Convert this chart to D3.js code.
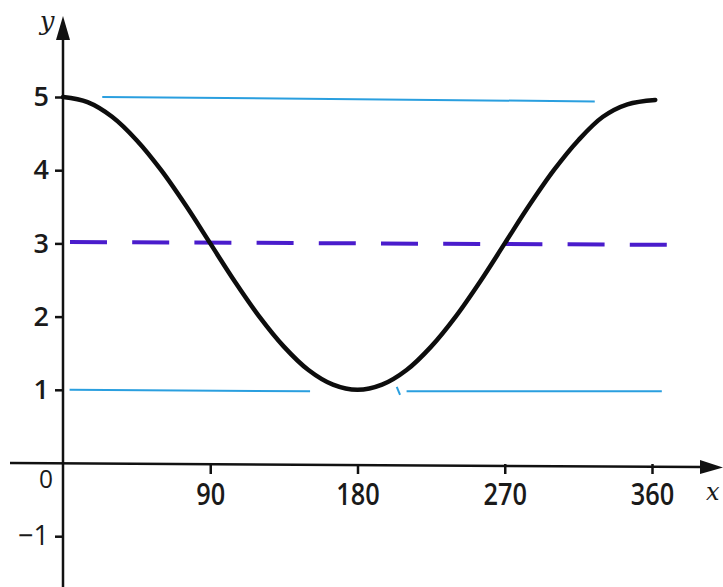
<!DOCTYPE html>
<html>
<head>
<meta charset="utf-8">
<script src="https://cdn.jsdelivr.net/npm/d3@7"></script>
<style>
	body { margin: 0; background: #fff; }
	svg { display: block; }
</style>
</head>
<body>
<div id="chart"></div>
<script>
// values
const curveX = [0, 15, 30, 45, 60, 75, 90, 105, 120, 135, 150, 165, 180, 195, 210, 225, 240, 255, 270, 285, 300, 315, 330, 345, 362];
const curveY = [5, 4.93, 4.73, 4.41, 4.0, 3.52, 3.0, 2.48, 2.0, 1.59, 1.27, 1.07, 1.0, 1.07, 1.27, 1.59, 2.0, 2.48, 3.0, 3.52, 4.0, 4.41, 4.73, 4.9, 4.96];

// blue guide lines: [x1, y1, x2, y2]
const blueLines = [
	[24, 5.0, 325, 4.94],
	[4, 1.0, 151, 0.98],
	[210, 0.98, 366, 0.98],
	[204, 1.04, 206, 0.93],
];
// dashed midline: [x1, y1, x2, y2]
const midLine = [0, 3.02, 372, 2.98];

const xTicks = [90, 180, 270, 360];
const yTicks = [-1, 1, 2, 3, 4, 5];

const width = 723;
const height = 587;

const x = d3.scaleLinear().domain([0, 360]).range([63, 652]);
const y = d3.scaleLinear().domain([0, 5]).range([463, 97]);

const svg = d3.select('#chart')
	.append('svg')
	.attr('width', width)
	.attr('height', height);

// axes lines with arrows
svg.append('line')
	.attr('x1', x(0)).attr('x2', x(0))
	.attr('y1', height).attr('y2', 38)
	.attr('stroke', '#111').attr('stroke-width', 2.5);
svg.append('path')
	.attr('d', `M${x(0) - 7},40 L${x(0)},16 L${x(0) + 7},40 Z`)
	.attr('fill', '#111');

svg.append('line')
	.attr('x1', 10).attr('x2', 702)
	.attr('y1', y(0)).attr('y2', y(0) + 4)
	.attr('stroke', '#111').attr('stroke-width', 2.5);
svg.append('path')
	.attr('d', `M700,${y(0) - 3} L723,${y(0) + 4.5} L700,${y(0) + 11} Z`)
	.attr('fill', '#111');

// y ticks
const yAxis = svg.append('g')
	.attr('transform', `translate(${x(0)},0)`)
	.call(d3.axisLeft(y).tickValues(yTicks).tickSize(8).tickPadding(6));
yAxis.select('.domain').remove();
yAxis.selectAll('line').attr('stroke', '#111').attr('stroke-width', 2.5);
yAxis.selectAll('text')
	.attr('font-family', 'Open Sans, sans-serif')
	.attr('font-size', 27)
	.attr('font-weight', (d) => (d < 0 ? 400 : 600))
	.attr('fill', '#1a1a1a')
	.text((d) => (d < 0 ? '\u2212' + Math.abs(d) : d));

// x ticks
const xAxis = svg.append('g')
	.attr('transform', `translate(0,${y(0) + 1})`)
	.call(d3.axisBottom(x).tickValues(xTicks).tickSize(10).tickPadding(10));
xAxis.select('.domain').remove();
xAxis.selectAll('line').attr('stroke', '#111').attr('stroke-width', 2.5);
xAxis.selectAll('text')
	.attr('font-family', 'Open Sans, sans-serif')
	.attr('font-size', 30)
	.attr('font-weight', 600)
	.attr('fill', '#1a1a1a')
	.attr('textLength', (d) => String(d).length * 14.5)
	.attr('lengthAdjust', 'spacingAndGlyphs');

svg.append('text')
	.attr('x', 46).attr('y', 488)
	.attr('text-anchor', 'middle')
	.attr('font-family', 'Open Sans, sans-serif')
	.attr('font-size', 25)
	.attr('fill', '#1a1a1a')
	.attr('textLength', 14)
	.attr('lengthAdjust', 'spacingAndGlyphs')
	.text('0');

// axis names
svg.append('text')
	.attr('x', 47).attr('y', 30)
	.attr('text-anchor', 'middle')
	.attr('font-family', 'DejaVu Serif, serif')
	.attr('font-style', 'italic')
	.attr('font-size', 26)
	.attr('fill', '#1a1a1a')
	.text('y');
svg.append('text')
	.attr('x', 706).attr('y', 500)
	.attr('font-family', 'DejaVu Serif, serif')
	.attr('font-style', 'italic')
	.attr('font-size', 24)
	.attr('fill', '#1a1a1a')
	.text('x');

// guide lines
svg.selectAll('.blue')
	.data(blueLines)
	.join('line')
	.attr('class', 'blue')
	.attr('x1', (d) => x(d[0]))
	.attr('y1', (d) => y(d[1]))
	.attr('x2', (d) => x(d[2]))
	.attr('y2', (d) => y(d[3]))
	.attr('stroke', '#2a9fdf')
	.attr('stroke-width', 2);

svg.append('line')
	.attr('x1', x(midLine[0]))
	.attr('y1', y(midLine[1]))
	.attr('x2', x(midLine[2]))
	.attr('y2', y(midLine[3]))
	.attr('stroke', '#4a1ccc')
	.attr('stroke-width', 4)
	.attr('stroke-dasharray', '37,25.2')
	.attr('stroke-dashoffset', 55.2);

// curve
const points = curveX.map((d, i) => [d, curveY[i]]);
const line = d3.line()
	.x((d) => x(d[0]))
	.y((d) => y(d[1]))
	.curve(d3.curveCatmullRom);

svg.append('path')
	.datum(points)
	.attr('d', line)
	.attr('fill', 'none')
	.attr('stroke', '#0d0d0d')
	.attr('stroke-width', 4.5)
	.attr('stroke-linecap', 'round');
</script>
</body>
</html>
